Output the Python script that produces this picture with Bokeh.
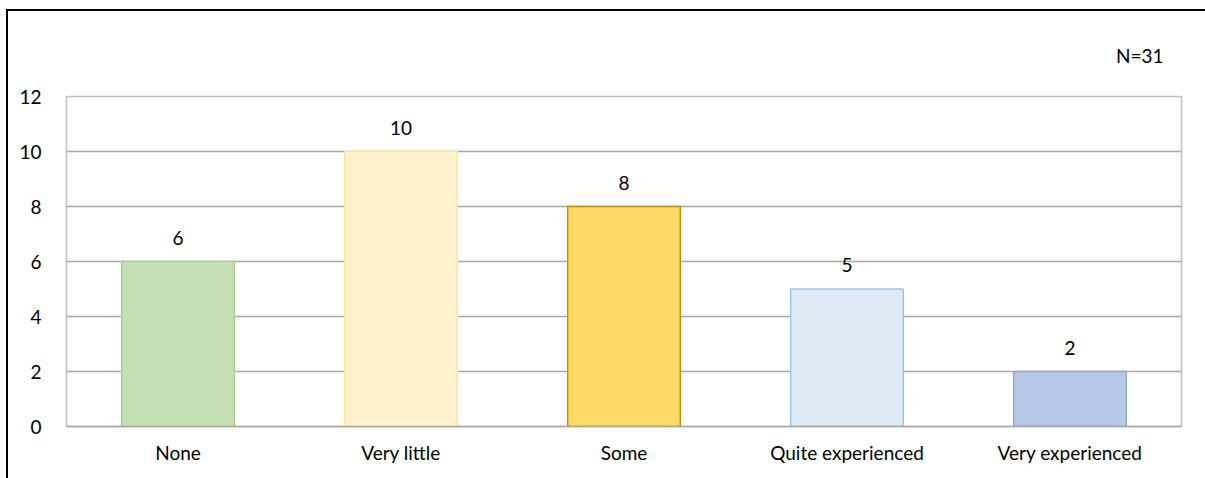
from bokeh.plotting import figure
from bokeh.models import ColumnDataSource, FixedTicker
from bokeh.core.properties import value
from bokeh.embed import file_html
from bokeh.resources import INLINE

categories = ["None", "Very little", "Some", "Quite experienced", "Very experienced"]
counts = [6, 10, 8, 5, 2]
fill_colors = ["#C5E0B4", "#FFF2CC", "#FFD966", "#DEEBF7", "#B4C7E7"]
line_colors = ["#A9D18E", "#FFE699", "#BF9000", "#9DC3E6", "#8FAADC"]
y_ticks = [0, 2, 4, 6, 8, 10, 12]
n_label = "N=31"

FONT = "Lato"
FS = "19px"

src = ColumnDataSource(dict(cat=categories, val=counts, fill=fill_colors,
                            line=line_colors, txt=[str(v) for v in counts]))

p = figure(x_range=categories, y_range=(0, 12), width=1197, height=467,
           output_backend="svg", toolbar_location=None,
           min_border_left=58, min_border_right=24, min_border_top=85,
           min_border_bottom=52,
           margin=(11, 0, 0, 8),
           styles={"box-shadow": "-1px -1px 0 1px #000000"})

p.title.text = n_label
p.title.align = "right"
p.title.vertical_align = "top"
p.title.offset = 18
p.title.standoff = 56
p.title.text_font = FONT
p.title.text_font_size = FS
p.title.text_font_style = "normal"
p.title.text_color = "#000000"

p.vbar(x="cat", top="val", width=0.505, bottom=0, source=src,
       fill_color="fill", line_color="line", line_width=1.5)

p.text(x="cat", y="val", text="txt", source=src, text_align="center",
       text_baseline="middle", y_offset=-24, text_font=value(FONT),
       text_font_size=FS, text_color="#000000")

p.yaxis.ticker = FixedTicker(ticks=y_ticks)
p.yaxis.axis_line_color = None
p.yaxis.major_tick_line_color = None
p.yaxis.minor_tick_line_color = None
p.yaxis.major_label_standoff = 19
p.yaxis.major_label_text_font = FONT
p.yaxis.major_label_text_font_size = FS
p.yaxis.major_label_text_color = "#000000"

p.xaxis.axis_line_color = "#A6A6A6"
p.xaxis.axis_line_width = 1.5
p.xaxis.major_tick_line_color = None
p.xaxis.minor_tick_line_color = None
p.xaxis.major_label_standoff = 8
p.xaxis.major_label_text_font = FONT
p.xaxis.major_label_text_font_size = FS
p.xaxis.major_label_text_color = "#000000"

p.xgrid.grid_line_color = None
p.ygrid.grid_line_color = "#A6A6A6"
p.ygrid.grid_line_width = 1.5
p.outline_line_color = "#BFBFBF"
p.outline_line_width = 1.5
p.background_fill_color = "white"
p.border_fill_color = "white"

open("out.html", "w").write(file_html(p, INLINE))
